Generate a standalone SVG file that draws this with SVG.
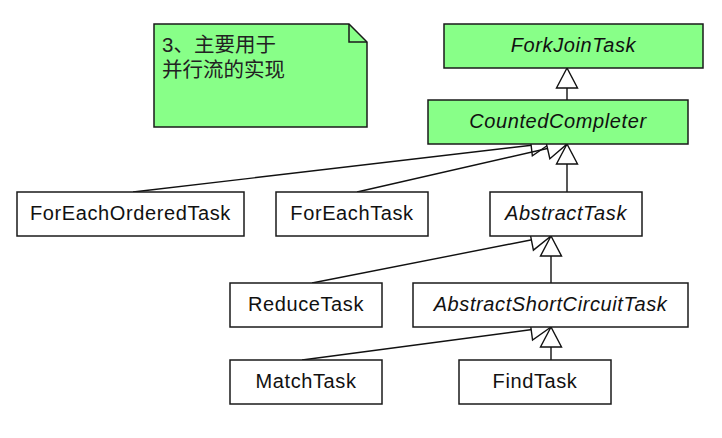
<svg xmlns="http://www.w3.org/2000/svg" width="722" height="438" viewBox="0 0 722 438">
<style>
.box{fill:#ffffff;stroke:#1a1a1a;stroke-width:1.5}
.green{fill:#88ff88}
.lbl{font-family:"Liberation Sans",Arial,sans-serif;font-size:20px;letter-spacing:0.6px;fill:#111;text-anchor:middle}
.it{font-style:italic}
.note{font-family:"Liberation Sans","Noto Sans CJK SC",sans-serif;font-size:20.5px;fill:#222}
.conn{stroke:#111;stroke-width:1.4;fill:none;marker-end:url(#gen)}
</style>
<defs>
<marker id="gen" markerUnits="userSpaceOnUse" viewBox="-23 -13 25 26" markerWidth="25" markerHeight="26" refX="0" refY="0" orient="auto">
<path d="M0,0 L-20,-10.5 L-20,10.5 Z" fill="#ffffff" stroke="#111" stroke-width="1.4" stroke-linejoin="miter"/>
</marker>
</defs>
<rect width="722" height="438" fill="#ffffff"/>
<g id="note">
<path d="M154,24 L349,24 L367,42 L367,127 L154,127 Z" class="box green"/>
<path d="M349,24 L349,42 L367,42" fill="none" stroke="#1a1a1a" stroke-width="1.5"/>
<text class="note" x="162" y="52">3、主要用于</text>
<text class="note" x="162" y="77">并行流的实现</text>
</g>
<g id="connectors">
<line class="conn" x1="567" y1="100" x2="567" y2="68"/>
<line class="conn" x1="567" y1="192" x2="567" y2="144"/>
<line class="conn" x1="133" y1="192" x2="551" y2="143"/>
<line class="conn" x1="357" y1="192" x2="567" y2="144"/>
<line class="conn" x1="312" y1="283" x2="551" y2="236"/>
<line class="conn" x1="551" y1="283" x2="551" y2="236"/>
<line class="conn" x1="302" y1="360" x2="551" y2="327"/>
<line class="conn" x1="551" y1="360" x2="551" y2="327"/>
</g>
<g id="ForkJoinTask">
<rect class="box green" x="444" y="24" width="259" height="44"/>
<text class="lbl it" x="573.5" y="52">ForkJoinTask</text>
</g>
<g id="CountedCompleter">
<rect class="box green" x="428" y="100" width="260" height="44"/>
<text class="lbl it" x="558" y="128">CountedCompleter</text>
</g>
<g id="ForEachOrderedTask">
<rect class="box" x="17" y="192" width="227" height="44"/>
<text class="lbl" x="130.5" y="220">ForEachOrderedTask</text>
</g>
<g id="ForEachTask">
<rect class="box" x="276" y="192" width="152" height="44"/>
<text class="lbl" x="352" y="220">ForEachTask</text>
</g>
<g id="AbstractTask">
<rect class="box" x="490" y="192" width="152" height="44"/>
<text class="lbl it" x="566" y="220">AbstractTask</text>
</g>
<g id="ReduceTask">
<rect class="box" x="230" y="283" width="152" height="44"/>
<text class="lbl" x="306" y="311">ReduceTask</text>
</g>
<g id="AbstractShortCircuitTask">
<rect class="box" x="413" y="283" width="275" height="44"/>
<text class="lbl it" x="550.5" y="311">AbstractShortCircuitTask</text>
</g>
<g id="MatchTask">
<rect class="box" x="230" y="360" width="152" height="44"/>
<text class="lbl" x="306" y="388">MatchTask</text>
</g>
<g id="FindTask">
<rect class="box" x="459" y="360" width="152" height="44"/>
<text class="lbl" x="535" y="388">FindTask</text>
</g>
</svg>
